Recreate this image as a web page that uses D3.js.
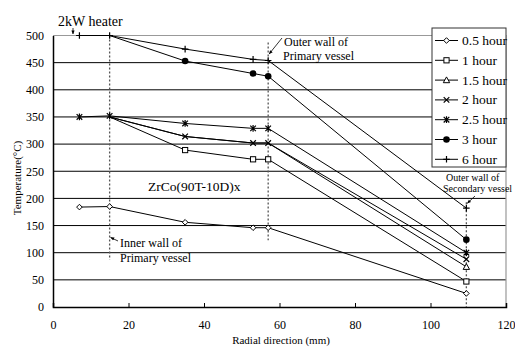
<!DOCTYPE html>
<html>
<head>
<meta charset="utf-8">
<script src="https://cdn.jsdelivr.net/npm/d3@7/dist/d3.min.js"></script>
<style>
  body { margin: 0; background: #fff; }
</style>
</head>
<body>
<div id="chart"></div>
<script>
// radial positions (mm) where thermocouples sit
var radialMm = [7, 15, 35, 53, 57, 109.5];

var seriesNames = ["0.5 hour", "1 hour", "1.5 hour", "2 hour", "2.5 hour", "3 hour", "6 hour"];
var seriesMarks = ["diamond", "square", "triangle", "x", "star", "dot", "plus"];

// temperatures, null = not measured at that position
var temp05 = [184, 185, 156, 146, 146, 25];
var temp1 = [null, 350, 289, 272, 272, 47];
var temp15 = [null, 350, 314, 302, 302, 74];
var temp2 = [null, 350, 314, 302, 302, 88];
var temp25 = [350, 352, 338, 329, 329, 100];
var temp3 = [null, 500, 453, 430, 425, 124];
var temp6 = [500, 500, 475, 456, 454, 182];
var allTemps = [temp05, temp1, temp15, temp2, temp25, temp3, temp6];

// markers that don't show up in the original (covered by others)
var hiddenMarks = {"1 hour": [15], "1.5 hour": [15, 35, 53, 57], "2 hour": [15], "3 hour": [15]};

var xTicks = [0, 20, 40, 60, 80, 100, 120];
var yTicks = [0, 50, 100, 150, 200, 250, 300, 350, 400, 450, 500];

// vertical dashed wall markers: [x, yFrom, yTo]
var wallLines = [[15, 500, 87], [57, 487, 123], [109.5, 193, 0]];

var W = 515, H = 350;
var margin = {top: 35.5, right: 9, bottom: 43, left: 53};
var SERIF = "'Liberation Serif', 'Times New Roman', Tinos";

var svg = d3.select("#chart").append("svg").attr("width", W).attr("height", H);

var x = d3.scaleLinear().domain([0, 120]).range([margin.left, W - margin.right]);
var y = d3.scaleLinear().domain([0, 500]).range([H - margin.bottom, margin.top]);

svg.append("defs").append("marker")
  .attr("id", "arr").attr("viewBox", "0 0 10 10").attr("refX", 9).attr("refY", 5)
  .attr("markerWidth", 5).attr("markerHeight", 5).attr("orient", "auto")
  .append("path").attr("d", "M0,1L10,5L0,9Z").attr("fill", "#000");

// gridlines
svg.append("g").selectAll("line").data(yTicks.slice(1, -1)).enter().append("line")
  .attr("x1", x(0)).attr("x2", x(120))
  .attr("y1", function (d) { return y(d); }).attr("y2", function (d) { return y(d); })
  .attr("stroke", "#000").attr("stroke-width", 1);

// plot frame top/right in grey
svg.append("path")
  .attr("d", "M" + x(0) + "," + y(500) + "H" + x(120) + "V" + y(0))
  .attr("fill", "none").attr("stroke", "#999").attr("stroke-width", 1.2);

// axes
var xAxis = svg.append("g").attr("transform", "translate(0," + y(0) + ")")
  .call(d3.axisBottom(x).tickValues(xTicks).tickSize(-4).tickPadding(13));
var yAxis = svg.append("g").attr("transform", "translate(" + x(0) + ",0)")
  .call(d3.axisLeft(y).tickValues(yTicks).tickSize(0).tickPadding(9));
[xAxis, yAxis].forEach(function (a) {
  a.attr("font-size", 12).attr("font-family", null);
  a.select(".domain").attr("stroke", "#000").attr("stroke-width", 1.5);
  a.selectAll(".tick line").attr("stroke", "#000");
});
xAxis.selectAll(".tick").filter(function (d) { return d == 0 || d == 120; }).select("line").remove();

// wall lines
svg.append("g").selectAll("line").data(wallLines).enter().append("line")
  .attr("x1", function (d) { return x(d[0]); }).attr("x2", function (d) { return x(d[0]); })
  .attr("y1", function (d) { return y(d[1]); }).attr("y2", function (d) { return y(d[2]); })
  .attr("stroke", "#555").attr("stroke-width", 1.3).attr("stroke-dasharray", "2,2");

function drawMark(g, kind, cx, cy) {
  var s = 2.8;
  if (kind == "diamond") {
    g.append("path").attr("d", "M" + cx + "," + (cy - s) + "L" + (cx + s) + "," + cy + "L" + cx + "," + (cy + s) + "L" + (cx - s) + "," + cy + "Z")
      .attr("fill", "#fff").attr("stroke", "#000").attr("stroke-width", 1);
  } else if (kind == "square") {
    g.append("rect").attr("x", cx - 2.6).attr("y", cy - 2.6).attr("width", 5.2).attr("height", 5.2)
      .attr("fill", "#fff").attr("stroke", "#000").attr("stroke-width", 1);
  } else if (kind == "triangle") {
    g.append("path").attr("d", "M" + cx + "," + (cy - 3.2) + "L" + (cx + 3.2) + "," + (cy + 2.6) + "L" + (cx - 3.2) + "," + (cy + 2.6) + "Z")
      .attr("fill", "#fff").attr("stroke", "#000").attr("stroke-width", 1);
  } else if (kind == "x" || kind == "star") {
    var p = "M" + (cx - s) + "," + (cy - s) + "L" + (cx + s) + "," + (cy + s) + "M" + (cx + s) + "," + (cy - s) + "L" + (cx - s) + "," + (cy + s);
    if (kind == "star") p += "M" + cx + "," + (cy - s - 0.6) + "V" + (cy + s + 0.6);
    g.append("path").attr("d", p).attr("stroke", "#000").attr("stroke-width", 1.2).attr("fill", "none");
  } else if (kind == "dot") {
    g.append("circle").attr("cx", cx).attr("cy", cy).attr("r", 3.3).attr("fill", "#000");
  } else if (kind == "plus") {
    g.append("path").attr("d", "M" + (cx - 3.3) + "," + cy + "H" + (cx + 3.3) + "M" + cx + "," + (cy - 3.3) + "V" + (cy + 3.3))
      .attr("stroke", "#000").attr("stroke-width", 1.2);
  }
}

var line = d3.line()
  .defined(function (d) { return d[1] != null; })
  .x(function (d) { return x(d[0]); })
  .y(function (d) { return y(d[1]); });

allTemps.forEach(function (vals, i) {
  var pts = radialMm.map(function (r, j) { return [r, vals[j]]; });
  var hide = hiddenMarks[seriesNames[i]] || [];
  var g = svg.append("g");
  g.append("path").attr("d", line(pts)).attr("fill", "none").attr("stroke", "#000").attr("stroke-width", 1);
  pts.filter(function (p) { return p[1] != null && hide.indexOf(p[0]) < 0; }).forEach(function (p) {
    drawMark(g, seriesMarks[i], x(p[0]), y(p[1]));
  });
});

// legend
var lg = svg.append("g").attr("transform", "translate(432,28)");
lg.append("rect").attr("width", 74).attr("height", 139).attr("fill", "#fff").attr("stroke", "#333").attr("stroke-width", 1);
seriesNames.forEach(function (name, i) {
  var ly = 12.5 + i * 19.8;
  var g = lg.append("g");
  g.append("line").attr("x1", 3).attr("x2", 26).attr("y1", ly).attr("y2", ly).attr("stroke", "#000");
  drawMark(g, seriesMarks[i], 14.5, ly);
  g.append("text").attr("x", 30).attr("y", ly + 4.5).attr("font-size", 13.5).text(name);
});

// annotations
function arrow(x1, y1, x2, y2) {
  svg.append("line").attr("x1", x1).attr("y1", y1).attr("x2", x2).attr("y2", y2)
    .attr("stroke", "#000").attr("stroke-width", 0.8).attr("marker-end", "url(#arr)");
}
svg.append("text").attr("x", 58).attr("y", 26).attr("font-size", 14).text("2kW heater");
arrow(73, 28, 73, 34);

svg.append("text").attr("x", 284).attr("y", 46).attr("font-size", 12).text("Outer wall of");
svg.append("text").attr("x", 283).attr("y", 60).attr("font-size", 12).text("Primary vessel");
arrow(282, 38, x(57) + 1, y(466));

svg.append("text").attr("x", 148).attr("y", 191).attr("font-size", 13.5).text("ZrCo(90T-10D)x");

svg.append("text").attr("x", 120).attr("y", 247).attr("font-size", 12).text("Inner wall of");
svg.append("text").attr("x", 120).attr("y", 262).attr("font-size", 12).text("Primary vessel");
arrow(118, 241, x(15) + 1, y(128));

svg.append("text").attr("x", 446).attr("y", 181).attr("font-size", 10).text("Outer wall of");
svg.append("text").attr("x", 443).attr("y", 192).attr("font-size", 10).text("Secondary vessel");
arrow(475, 196, x(109.5) + 1, y(191));

// axis titles
svg.append("text").attr("x", 281).attr("y", 344).attr("text-anchor", "middle").attr("font-size", 11)
  .text("Radial direction (mm)");
svg.append("text").attr("transform", "translate(21," + 178 + ") rotate(-90)").attr("text-anchor", "middle")
  .attr("font-size", 11).text("Temperature(°C)");

// serif on every label
svg.selectAll("text").style("font-family", SERIF).attr("fill", "#000");
</script>
</body>
</html>
